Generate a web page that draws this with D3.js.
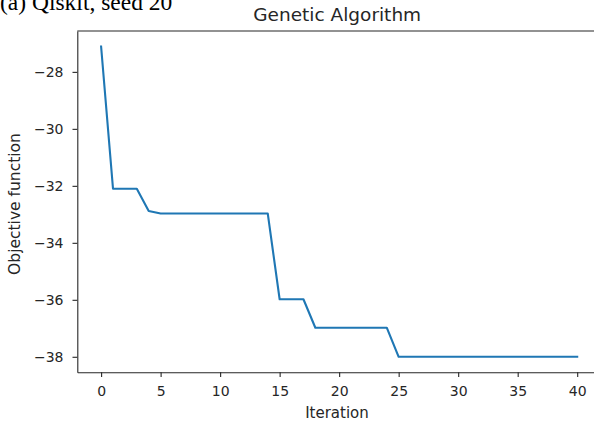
<!DOCTYPE html>
<html><head><meta charset="utf-8">
<script src="https://cdn.jsdelivr.net/npm/d3@7"></script>
<style>body{margin:0;background:#fff;overflow:hidden}svg{display:block}</style>
</head><body>
<svg id="c" width="594" height="423"></svg>
<script>
const iterations = d3.range(0, 41);
const objective = [
  -27.11, -32.10, -32.10, -32.10, -32.88, -32.97, -32.97, -32.97, -32.97, -32.97,
  -32.97, -32.97, -32.97, -32.97, -32.97, -35.98, -35.98, -35.98, -36.98, -36.98,
  -36.98, -36.98, -36.98, -36.98, -36.98, -38.00, -38.00, -38.00, -38.00, -38.00,
  -38.00, -38.00, -38.00, -38.00, -38.00, -38.00, -38.00, -38.00, -38.00, -38.00,
  -38.00
];
const xTicks = [0, 5, 10, 15, 20, 25, 30, 35, 40];
const yTicks = [-38, -36, -34, -32, -30, -28];
const title = "Genetic Algorithm";
const caption = "(a) Qiskit, seed 20";
const xLabel = "Iteration";
const yLabel = "Objective function";

const svg = d3.select("#c");
const L = 77.3, R = 601, T = 31, B = 372.3;
const xExt = d3.extent(iterations), yExt = d3.extent(objective);
const xPad = (xExt[1]-xExt[0])*0.05, yPad = (yExt[1]-yExt[0])*0.05;
const x = d3.scaleLinear().domain([xExt[0]-xPad, xExt[1]+xPad]).range([L, R]);
const y = d3.scaleLinear().domain([yExt[0]-yPad, yExt[1]+yPad]).range([B, T]);

const font = "'DejaVu Sans', sans-serif";

svg.append("text").attr("x", 0).attr("y", 9.5).attr("font-family", "'Liberation Serif', 'Times New Roman', serif")
  .attr("font-size", 23.5).attr("fill", "#000").text(caption);

// line
const data = iterations.map((d, i) => [d, objective[i]]);
svg.append("path").datum(data)
  .attr("d", d3.line().x(d => x(d[0])).y(d => y(d[1])))
  .attr("fill", "none").attr("stroke", "#1f77b4").attr("stroke-width", 2.1)
  .attr("stroke-linejoin", "round").attr("stroke-linecap", "square");

// axes
const xAxis = svg.append("g").attr("transform", `translate(0,${B})`)
  .call(d3.axisBottom(x).tickValues(xTicks).tickSize(4.8).tickPadding(8.5).tickSizeOuter(0));
const yAxis = svg.append("g").attr("transform", `translate(${L},0)`)
  .call(d3.axisLeft(y).tickValues(yTicks).tickSize(4.8).tickPadding(9).tickSizeOuter(0)
    .tickFormat(d => "\u2212" + Math.abs(d)));
[xAxis, yAxis].forEach(a => {
  a.selectAll("text").attr("font-family", font).attr("font-size", 14).attr("fill", "#262626");
  a.selectAll("line").attr("stroke", "#262626").attr("stroke-width", 1.1);
  a.select(".domain").attr("stroke", "#262626").attr("stroke-width", 1.1);
});
// spines top and right
svg.append("line").attr("x1", L).attr("x2", R).attr("y1", T).attr("y2", T).attr("stroke", "#262626").attr("stroke-width", 1.1);
svg.append("line").attr("x1", R).attr("x2", R).attr("y1", T).attr("y2", B).attr("stroke", "#262626").attr("stroke-width", 1.1);

svg.append("text").attr("x", 337.2).attr("y", 21).attr("text-anchor", "middle")
  .attr("font-family", font).attr("font-size", 18.5).attr("fill", "#262626").text(title);
svg.append("text").attr("x", 337).attr("y", 417.5).attr("text-anchor", "middle")
  .attr("font-family", font).attr("font-size", 15).attr("fill", "#262626").text(xLabel);
svg.append("text").attr("transform", `translate(20,204) rotate(-90)`).attr("text-anchor", "middle")
  .attr("font-family", font).attr("font-size", 15.5).attr("fill", "#262626").text(yLabel);
</script>
</body></html>
